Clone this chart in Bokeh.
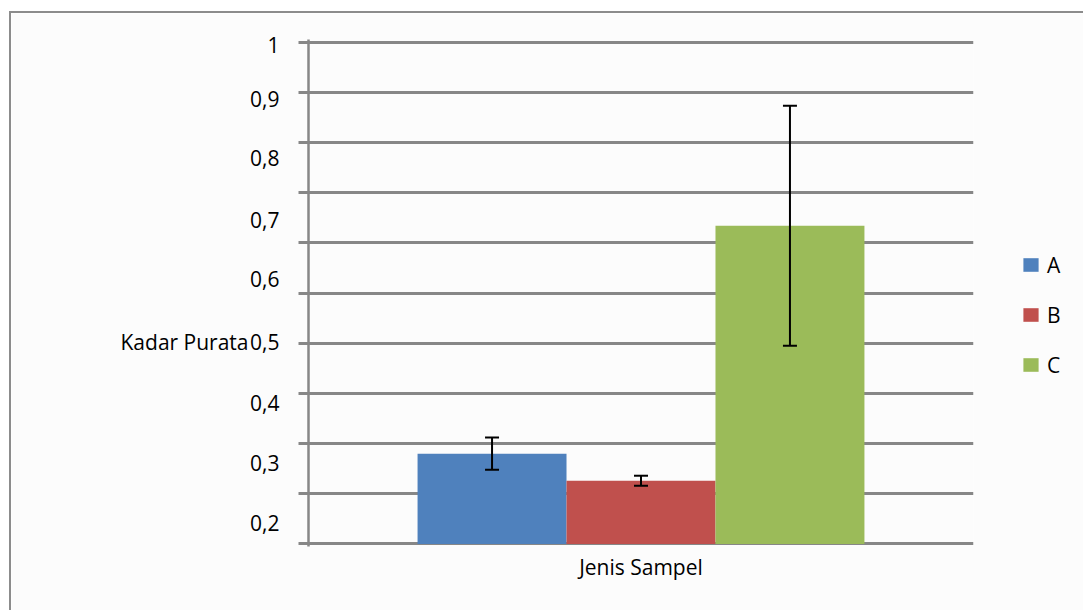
from bokeh.plotting import figure
from bokeh.models import (FixedTicker, Range1d, Whisker, TeeHead, ColumnDataSource,
                          Legend, LegendItem, LinearAxis)
from bokeh.transform import dodge
from bokeh.embed import file_html
from bokeh.resources import INLINE

# ---- data ----
category = ["Jenis Sampel"]
series = ["A", "B", "C"]
values = [0.180, 0.126, 0.634]
errors = [0.032, 0.010, 0.239]
colors = ["#4F81BD", "#C0504D", "#9BBB59"]
y_tick_labels = ["1", "0,9", "0,8", "0,7", "0,6", "0,5", "0,4", "0,3", "0,2"]
grid_values = [0.0, 0.1, 0.2, 0.3, 0.4, 0.5, 0.6, 0.7, 0.8, 0.9, 1.0]
y_title = "Kadar Purata"

# ---- layout constants ----
y_label_pos = [0.995, 0.886, 0.768, 0.646, 0.527, 0.403, 0.281, 0.161, 0.042]
title_pos = 0.403
offsets = [-0.224, 0.0, 0.224]
bar_width = 0.224
FONT = "Open Sans"
FS = "21px"
GRAY = "#878787"

p = figure(frame_width=665, frame_height=507, x_range=category, y_range=Range1d(-0.005, 1.005),
           output_backend="svg", toolbar_location=None, title=None,
           min_border_left=297, min_border_right=0, min_border_top=26, min_border_bottom=64,
           background_fill_color="#fcfcfc", border_fill_color="#fcfcfc")
p.outline_line_color = None
p.styles = {"margin-left": "9px", "margin-top": "11px",
            "border-left": "2px solid #8c8c8c", "border-top": "2px solid #8c8c8c"}

# grid
p.xgrid.grid_line_color = None
p.ygrid.ticker = FixedTicker(ticks=grid_values)
p.ygrid.grid_line_color = GRAY
p.ygrid.grid_line_width = 3

# y axis: labels at their own positions, tick marks at grid values
p.yaxis.ticker = FixedTicker(ticks=y_label_pos, minor_ticks=grid_values)
p.yaxis.major_label_overrides = {pos: lab for pos, lab in zip(y_label_pos, y_tick_labels)}
p.yaxis.major_tick_out = 0
p.yaxis.major_tick_in = 0
p.yaxis.minor_tick_out = 10
p.yaxis.minor_tick_in = 0
p.yaxis.minor_tick_line_color = GRAY
p.yaxis.minor_tick_line_width = 3
p.yaxis.axis_line_color = GRAY
p.yaxis.axis_line_width = 2.5
p.yaxis.major_label_standoff = 19
p.yaxis.major_label_text_font = FONT
p.yaxis.major_label_text_font_size = FS
p.yaxis.major_label_text_color = "black"

# y title drawn as the single label of an outer axis, level with "0,5"
title_axis = LinearAxis(ticker=FixedTicker(ticks=[title_pos]),
                        major_label_overrides={title_pos: y_title},
                        axis_line_color=None, major_tick_out=0, major_tick_in=0,
                        minor_tick_out=0, minor_tick_in=0, major_label_standoff=-1,
                        major_label_text_font=FONT, major_label_text_font_size=FS,
                        major_label_text_color="black")
p.add_layout(title_axis, "left")

# x axis
p.xaxis.axis_line_color = None
p.xaxis.major_tick_out = 0
p.xaxis.major_tick_in = 0
p.xaxis.major_label_standoff = 6
p.xaxis.major_label_text_font = FONT
p.xaxis.major_label_text_font_size = FS
p.xaxis.major_label_text_color = "black"

items = []
for s, v, e, c, off in zip(series, values, errors, colors, offsets):
    src = ColumnDataSource(dict(x=category, top=[v], upper=[v + e], lower=[v - e]))
    r = p.vbar(x=dodge("x", off, range=p.x_range), top="top", bottom=0, width=bar_width,
               source=src, fill_color=c, line_color=None)
    w = Whisker(base=dodge("x", off, range=p.x_range), upper="upper", lower="lower",
                source=src, line_color="black", line_width=2, level="overlay",
                upper_head=TeeHead(size=14, line_color="black", line_width=2),
                lower_head=TeeHead(size=14, line_color="black", line_width=2))
    p.add_layout(w)
    items.append(LegendItem(label=s, renderers=[r]))

legend = Legend(items=items, location=(48, 167.5), glyph_width=19, glyph_height=17,
                label_standoff=7, label_width=14, spacing=22, padding=0, margin=0,
                border_line_color=None, background_fill_alpha=0,
                label_text_font=FONT, label_text_font_size=FS, label_text_color="black")
p.add_layout(legend, "right")

open("out.html", "w").write(file_html(p, INLINE))
